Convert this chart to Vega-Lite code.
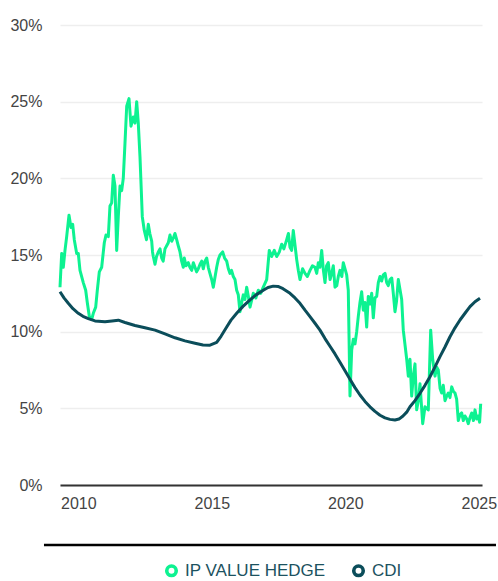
{
"$schema":"https://vega.github.io/schema/vega-lite/v6.json",
"width":422,"height":460,
"autosize":{"type":"none"},
"padding":{"left":60,"top":25,"right":16,"bottom":96},
"background":"white",
"config":{"view":{"stroke":null},"font":"Liberation Sans"},
"datasets":{
"rule":[{"a":2008.715,"b":2025.644,"y":-3.913}],
"main":[
{"t":2009.315,"v":12.9,"s":"IP VALUE HEDGE"},
{"t":2009.378,"v":15.1,"s":"IP VALUE HEDGE"},
{"t":2009.438,"v":14.2,"s":"IP VALUE HEDGE"},
{"t":2009.502,"v":15.3,"s":"IP VALUE HEDGE"},
{"t":2009.565,"v":16.2,"s":"IP VALUE HEDGE"},
{"t":2009.652,"v":17.6,"s":"IP VALUE HEDGE"},
{"t":2009.727,"v":16.8,"s":"IP VALUE HEDGE"},
{"t":2009.790,"v":17.0,"s":"IP VALUE HEDGE"},
{"t":2009.850,"v":16.0,"s":"IP VALUE HEDGE"},
{"t":2009.940,"v":15.1,"s":"IP VALUE HEDGE"},
{"t":2010.000,"v":15.1,"s":"IP VALUE HEDGE"},
{"t":2010.064,"v":14.0,"s":"IP VALUE HEDGE"},
{"t":2010.187,"v":13.2,"s":"IP VALUE HEDGE"},
{"t":2010.277,"v":12.7,"s":"IP VALUE HEDGE"},
{"t":2010.337,"v":11.9,"s":"IP VALUE HEDGE"},
{"t":2010.412,"v":11.0,"s":"IP VALUE HEDGE"},
{"t":2010.502,"v":10.8,"s":"IP VALUE HEDGE"},
{"t":2010.562,"v":11.2,"s":"IP VALUE HEDGE"},
{"t":2010.652,"v":11.6,"s":"IP VALUE HEDGE"},
{"t":2010.712,"v":12.7,"s":"IP VALUE HEDGE"},
{"t":2010.787,"v":13.9,"s":"IP VALUE HEDGE"},
{"t":2010.876,"v":14.2,"s":"IP VALUE HEDGE"},
{"t":2010.974,"v":15.8,"s":"IP VALUE HEDGE"},
{"t":2011.037,"v":16.3,"s":"IP VALUE HEDGE"},
{"t":2011.124,"v":16.2,"s":"IP VALUE HEDGE"},
{"t":2011.187,"v":18.2,"s":"IP VALUE HEDGE"},
{"t":2011.251,"v":18.4,"s":"IP VALUE HEDGE"},
{"t":2011.311,"v":20.2,"s":"IP VALUE HEDGE"},
{"t":2011.375,"v":19.5,"s":"IP VALUE HEDGE"},
{"t":2011.438,"v":15.3,"s":"IP VALUE HEDGE"},
{"t":2011.498,"v":17.5,"s":"IP VALUE HEDGE"},
{"t":2011.562,"v":19.5,"s":"IP VALUE HEDGE"},
{"t":2011.625,"v":19.2,"s":"IP VALUE HEDGE"},
{"t":2011.685,"v":20.0,"s":"IP VALUE HEDGE"},
{"t":2011.749,"v":22.3,"s":"IP VALUE HEDGE"},
{"t":2011.813,"v":24.7,"s":"IP VALUE HEDGE"},
{"t":2011.899,"v":25.2,"s":"IP VALUE HEDGE"},
{"t":2011.974,"v":23.4,"s":"IP VALUE HEDGE"},
{"t":2012.060,"v":24.0,"s":"IP VALUE HEDGE"},
{"t":2012.124,"v":23.6,"s":"IP VALUE HEDGE"},
{"t":2012.187,"v":25.0,"s":"IP VALUE HEDGE"},
{"t":2012.247,"v":23.6,"s":"IP VALUE HEDGE"},
{"t":2012.311,"v":21.4,"s":"IP VALUE HEDGE"},
{"t":2012.397,"v":17.5,"s":"IP VALUE HEDGE"},
{"t":2012.472,"v":16.6,"s":"IP VALUE HEDGE"},
{"t":2012.554,"v":16.0,"s":"IP VALUE HEDGE"},
{"t":2012.622,"v":17.0,"s":"IP VALUE HEDGE"},
{"t":2012.680,"v":16.4,"s":"IP VALUE HEDGE"},
{"t":2012.749,"v":15.9,"s":"IP VALUE HEDGE"},
{"t":2012.780,"v":15.2,"s":"IP VALUE HEDGE"},
{"t":2012.809,"v":14.9,"s":"IP VALUE HEDGE"},
{"t":2012.873,"v":14.4,"s":"IP VALUE HEDGE"},
{"t":2012.930,"v":14.9,"s":"IP VALUE HEDGE"},
{"t":2012.996,"v":15.2,"s":"IP VALUE HEDGE"},
{"t":2013.060,"v":15.4,"s":"IP VALUE HEDGE"},
{"t":2013.124,"v":14.8,"s":"IP VALUE HEDGE"},
{"t":2013.180,"v":14.6,"s":"IP VALUE HEDGE"},
{"t":2013.247,"v":15.4,"s":"IP VALUE HEDGE"},
{"t":2013.310,"v":15.6,"s":"IP VALUE HEDGE"},
{"t":2013.371,"v":15.8,"s":"IP VALUE HEDGE"},
{"t":2013.434,"v":16.3,"s":"IP VALUE HEDGE"},
{"t":2013.498,"v":15.9,"s":"IP VALUE HEDGE"},
{"t":2013.558,"v":16.1,"s":"IP VALUE HEDGE"},
{"t":2013.620,"v":16.4,"s":"IP VALUE HEDGE"},
{"t":2013.685,"v":16.0,"s":"IP VALUE HEDGE"},
{"t":2013.745,"v":15.6,"s":"IP VALUE HEDGE"},
{"t":2013.809,"v":15.2,"s":"IP VALUE HEDGE"},
{"t":2013.870,"v":14.6,"s":"IP VALUE HEDGE"},
{"t":2013.933,"v":14.2,"s":"IP VALUE HEDGE"},
{"t":2013.970,"v":14.8,"s":"IP VALUE HEDGE"},
{"t":2014.034,"v":14.3,"s":"IP VALUE HEDGE"},
{"t":2014.120,"v":14.5,"s":"IP VALUE HEDGE"},
{"t":2014.180,"v":14.2,"s":"IP VALUE HEDGE"},
{"t":2014.247,"v":14.0,"s":"IP VALUE HEDGE"},
{"t":2014.310,"v":14.5,"s":"IP VALUE HEDGE"},
{"t":2014.371,"v":14.2,"s":"IP VALUE HEDGE"},
{"t":2014.430,"v":13.9,"s":"IP VALUE HEDGE"},
{"t":2014.494,"v":14.1,"s":"IP VALUE HEDGE"},
{"t":2014.560,"v":14.4,"s":"IP VALUE HEDGE"},
{"t":2014.622,"v":14.6,"s":"IP VALUE HEDGE"},
{"t":2014.680,"v":14.1,"s":"IP VALUE HEDGE"},
{"t":2014.745,"v":14.6,"s":"IP VALUE HEDGE"},
{"t":2014.810,"v":14.8,"s":"IP VALUE HEDGE"},
{"t":2014.869,"v":14.2,"s":"IP VALUE HEDGE"},
{"t":2014.930,"v":13.8,"s":"IP VALUE HEDGE"},
{"t":2014.996,"v":13.4,"s":"IP VALUE HEDGE"},
{"t":2015.056,"v":12.9,"s":"IP VALUE HEDGE"},
{"t":2015.183,"v":14.2,"s":"IP VALUE HEDGE"},
{"t":2015.243,"v":14.7,"s":"IP VALUE HEDGE"},
{"t":2015.307,"v":15.0,"s":"IP VALUE HEDGE"},
{"t":2015.408,"v":15.2,"s":"IP VALUE HEDGE"},
{"t":2015.480,"v":14.8,"s":"IP VALUE HEDGE"},
{"t":2015.558,"v":14.6,"s":"IP VALUE HEDGE"},
{"t":2015.620,"v":14.1,"s":"IP VALUE HEDGE"},
{"t":2015.682,"v":13.8,"s":"IP VALUE HEDGE"},
{"t":2015.740,"v":14.0,"s":"IP VALUE HEDGE"},
{"t":2015.805,"v":13.6,"s":"IP VALUE HEDGE"},
{"t":2015.869,"v":13.4,"s":"IP VALUE HEDGE"},
{"t":2015.932,"v":12.7,"s":"IP VALUE HEDGE"},
{"t":2015.992,"v":12.4,"s":"IP VALUE HEDGE"},
{"t":2016.056,"v":11.3,"s":"IP VALUE HEDGE"},
{"t":2016.120,"v":11.9,"s":"IP VALUE HEDGE"},
{"t":2016.180,"v":12.4,"s":"IP VALUE HEDGE"},
{"t":2016.240,"v":12.1,"s":"IP VALUE HEDGE"},
{"t":2016.307,"v":12.9,"s":"IP VALUE HEDGE"},
{"t":2016.370,"v":12.3,"s":"IP VALUE HEDGE"},
{"t":2016.431,"v":11.6,"s":"IP VALUE HEDGE"},
{"t":2016.554,"v":12.5,"s":"IP VALUE HEDGE"},
{"t":2016.650,"v":12.2,"s":"IP VALUE HEDGE"},
{"t":2016.742,"v":12.7,"s":"IP VALUE HEDGE"},
{"t":2016.830,"v":12.5,"s":"IP VALUE HEDGE"},
{"t":2016.929,"v":12.9,"s":"IP VALUE HEDGE"},
{"t":2017.056,"v":13.4,"s":"IP VALUE HEDGE"},
{"t":2017.153,"v":15.3,"s":"IP VALUE HEDGE"},
{"t":2017.243,"v":14.9,"s":"IP VALUE HEDGE"},
{"t":2017.340,"v":15.3,"s":"IP VALUE HEDGE"},
{"t":2017.431,"v":14.9,"s":"IP VALUE HEDGE"},
{"t":2017.530,"v":15.2,"s":"IP VALUE HEDGE"},
{"t":2017.618,"v":15.7,"s":"IP VALUE HEDGE"},
{"t":2017.700,"v":15.4,"s":"IP VALUE HEDGE"},
{"t":2017.805,"v":16.0,"s":"IP VALUE HEDGE"},
{"t":2017.870,"v":16.4,"s":"IP VALUE HEDGE"},
{"t":2017.929,"v":15.5,"s":"IP VALUE HEDGE"},
{"t":2017.990,"v":15.3,"s":"IP VALUE HEDGE"},
{"t":2018.052,"v":16.6,"s":"IP VALUE HEDGE"},
{"t":2018.180,"v":14.7,"s":"IP VALUE HEDGE"},
{"t":2018.240,"v":14.0,"s":"IP VALUE HEDGE"},
{"t":2018.303,"v":13.4,"s":"IP VALUE HEDGE"},
{"t":2018.400,"v":14.1,"s":"IP VALUE HEDGE"},
{"t":2018.491,"v":13.8,"s":"IP VALUE HEDGE"},
{"t":2018.580,"v":13.6,"s":"IP VALUE HEDGE"},
{"t":2018.678,"v":14.0,"s":"IP VALUE HEDGE"},
{"t":2018.770,"v":14.3,"s":"IP VALUE HEDGE"},
{"t":2018.865,"v":14.2,"s":"IP VALUE HEDGE"},
{"t":2018.930,"v":13.8,"s":"IP VALUE HEDGE"},
{"t":2018.989,"v":14.5,"s":"IP VALUE HEDGE"},
{"t":2019.050,"v":14.2,"s":"IP VALUE HEDGE"},
{"t":2019.116,"v":15.3,"s":"IP VALUE HEDGE"},
{"t":2019.180,"v":14.0,"s":"IP VALUE HEDGE"},
{"t":2019.240,"v":13.2,"s":"IP VALUE HEDGE"},
{"t":2019.300,"v":14.3,"s":"IP VALUE HEDGE"},
{"t":2019.363,"v":14.5,"s":"IP VALUE HEDGE"},
{"t":2019.430,"v":13.4,"s":"IP VALUE HEDGE"},
{"t":2019.491,"v":13.8,"s":"IP VALUE HEDGE"},
{"t":2019.550,"v":14.3,"s":"IP VALUE HEDGE"},
{"t":2019.614,"v":12.9,"s":"IP VALUE HEDGE"},
{"t":2019.680,"v":13.0,"s":"IP VALUE HEDGE"},
{"t":2019.738,"v":13.6,"s":"IP VALUE HEDGE"},
{"t":2019.800,"v":14.0,"s":"IP VALUE HEDGE"},
{"t":2019.870,"v":13.6,"s":"IP VALUE HEDGE"},
{"t":2019.925,"v":14.5,"s":"IP VALUE HEDGE"},
{"t":2020.052,"v":13.7,"s":"IP VALUE HEDGE"},
{"t":2020.112,"v":12.7,"s":"IP VALUE HEDGE"},
{"t":2020.176,"v":5.8,"s":"IP VALUE HEDGE"},
{"t":2020.240,"v":8.8,"s":"IP VALUE HEDGE"},
{"t":2020.300,"v":9.5,"s":"IP VALUE HEDGE"},
{"t":2020.363,"v":9.2,"s":"IP VALUE HEDGE"},
{"t":2020.427,"v":10.0,"s":"IP VALUE HEDGE"},
{"t":2020.487,"v":11.0,"s":"IP VALUE HEDGE"},
{"t":2020.550,"v":11.9,"s":"IP VALUE HEDGE"},
{"t":2020.614,"v":12.6,"s":"IP VALUE HEDGE"},
{"t":2020.674,"v":11.4,"s":"IP VALUE HEDGE"},
{"t":2020.738,"v":11.9,"s":"IP VALUE HEDGE"},
{"t":2020.801,"v":10.3,"s":"IP VALUE HEDGE"},
{"t":2020.861,"v":12.3,"s":"IP VALUE HEDGE"},
{"t":2020.930,"v":11.8,"s":"IP VALUE HEDGE"},
{"t":2020.989,"v":12.5,"s":"IP VALUE HEDGE"},
{"t":2021.049,"v":10.9,"s":"IP VALUE HEDGE"},
{"t":2021.112,"v":12.2,"s":"IP VALUE HEDGE"},
{"t":2021.176,"v":12.3,"s":"IP VALUE HEDGE"},
{"t":2021.236,"v":13.2,"s":"IP VALUE HEDGE"},
{"t":2021.300,"v":13.6,"s":"IP VALUE HEDGE"},
{"t":2021.360,"v":13.3,"s":"IP VALUE HEDGE"},
{"t":2021.423,"v":13.7,"s":"IP VALUE HEDGE"},
{"t":2021.490,"v":13.8,"s":"IP VALUE HEDGE"},
{"t":2021.550,"v":13.2,"s":"IP VALUE HEDGE"},
{"t":2021.610,"v":13.0,"s":"IP VALUE HEDGE"},
{"t":2021.674,"v":13.4,"s":"IP VALUE HEDGE"},
{"t":2021.740,"v":13.5,"s":"IP VALUE HEDGE"},
{"t":2021.798,"v":12.5,"s":"IP VALUE HEDGE"},
{"t":2021.861,"v":11.3,"s":"IP VALUE HEDGE"},
{"t":2021.920,"v":12.0,"s":"IP VALUE HEDGE"},
{"t":2021.985,"v":13.4,"s":"IP VALUE HEDGE"},
{"t":2022.112,"v":12.1,"s":"IP VALUE HEDGE"},
{"t":2022.172,"v":10.1,"s":"IP VALUE HEDGE"},
{"t":2022.300,"v":8.2,"s":"IP VALUE HEDGE"},
{"t":2022.360,"v":7.1,"s":"IP VALUE HEDGE"},
{"t":2022.423,"v":8.2,"s":"IP VALUE HEDGE"},
{"t":2022.487,"v":5.8,"s":"IP VALUE HEDGE"},
{"t":2022.547,"v":7.1,"s":"IP VALUE HEDGE"},
{"t":2022.610,"v":7.9,"s":"IP VALUE HEDGE"},
{"t":2022.674,"v":4.9,"s":"IP VALUE HEDGE"},
{"t":2022.734,"v":5.5,"s":"IP VALUE HEDGE"},
{"t":2022.798,"v":6.6,"s":"IP VALUE HEDGE"},
{"t":2022.899,"v":4.0,"s":"IP VALUE HEDGE"},
{"t":2022.985,"v":5.1,"s":"IP VALUE HEDGE"},
{"t":2023.109,"v":4.9,"s":"IP VALUE HEDGE"},
{"t":2023.198,"v":10.1,"s":"IP VALUE HEDGE"},
{"t":2023.273,"v":8.2,"s":"IP VALUE HEDGE"},
{"t":2023.360,"v":7.1,"s":"IP VALUE HEDGE"},
{"t":2023.420,"v":7.7,"s":"IP VALUE HEDGE"},
{"t":2023.483,"v":7.5,"s":"IP VALUE HEDGE"},
{"t":2023.550,"v":6.3,"s":"IP VALUE HEDGE"},
{"t":2023.610,"v":6.0,"s":"IP VALUE HEDGE"},
{"t":2023.670,"v":6.5,"s":"IP VALUE HEDGE"},
{"t":2023.734,"v":5.5,"s":"IP VALUE HEDGE"},
{"t":2023.800,"v":5.8,"s":"IP VALUE HEDGE"},
{"t":2023.858,"v":6.0,"s":"IP VALUE HEDGE"},
{"t":2023.920,"v":5.7,"s":"IP VALUE HEDGE"},
{"t":2023.985,"v":6.4,"s":"IP VALUE HEDGE"},
{"t":2024.050,"v":6.1,"s":"IP VALUE HEDGE"},
{"t":2024.108,"v":6.0,"s":"IP VALUE HEDGE"},
{"t":2024.170,"v":5.6,"s":"IP VALUE HEDGE"},
{"t":2024.232,"v":4.2,"s":"IP VALUE HEDGE"},
{"t":2024.300,"v":4.6,"s":"IP VALUE HEDGE"},
{"t":2024.359,"v":4.7,"s":"IP VALUE HEDGE"},
{"t":2024.420,"v":4.2,"s":"IP VALUE HEDGE"},
{"t":2024.483,"v":4.5,"s":"IP VALUE HEDGE"},
{"t":2024.550,"v":4.3,"s":"IP VALUE HEDGE"},
{"t":2024.607,"v":4.0,"s":"IP VALUE HEDGE"},
{"t":2024.670,"v":4.4,"s":"IP VALUE HEDGE"},
{"t":2024.734,"v":4.7,"s":"IP VALUE HEDGE"},
{"t":2024.800,"v":4.2,"s":"IP VALUE HEDGE"},
{"t":2024.858,"v":4.9,"s":"IP VALUE HEDGE"},
{"t":2024.920,"v":4.3,"s":"IP VALUE HEDGE"},
{"t":2024.981,"v":4.5,"s":"IP VALUE HEDGE"},
{"t":2025.030,"v":4.1,"s":"IP VALUE HEDGE"},
{"t":2025.071,"v":5.3,"s":"IP VALUE HEDGE"},
{"t":2009.315,"v":12.6,"s":"CDI"},
{"t":2009.464,"v":12.2,"s":"CDI"},
{"t":2009.625,"v":11.85,"s":"CDI"},
{"t":2009.801,"v":11.5,"s":"CDI"},
{"t":2010.000,"v":11.2,"s":"CDI"},
{"t":2010.176,"v":11.0,"s":"CDI"},
{"t":2010.375,"v":10.85,"s":"CDI"},
{"t":2010.625,"v":10.7,"s":"CDI"},
{"t":2011.000,"v":10.65,"s":"CDI"},
{"t":2011.262,"v":10.7,"s":"CDI"},
{"t":2011.498,"v":10.75,"s":"CDI"},
{"t":2011.749,"v":10.6,"s":"CDI"},
{"t":2012.124,"v":10.4,"s":"CDI"},
{"t":2012.498,"v":10.25,"s":"CDI"},
{"t":2012.873,"v":10.1,"s":"CDI"},
{"t":2013.247,"v":9.85,"s":"CDI"},
{"t":2013.622,"v":9.6,"s":"CDI"},
{"t":2013.996,"v":9.4,"s":"CDI"},
{"t":2014.371,"v":9.25,"s":"CDI"},
{"t":2014.670,"v":9.13,"s":"CDI"},
{"t":2014.933,"v":9.12,"s":"CDI"},
{"t":2015.183,"v":9.3,"s":"CDI"},
{"t":2015.345,"v":9.7,"s":"CDI"},
{"t":2015.558,"v":10.3,"s":"CDI"},
{"t":2015.719,"v":10.75,"s":"CDI"},
{"t":2015.932,"v":11.2,"s":"CDI"},
{"t":2016.168,"v":11.65,"s":"CDI"},
{"t":2016.431,"v":12.07,"s":"CDI"},
{"t":2016.655,"v":12.4,"s":"CDI"},
{"t":2016.929,"v":12.7,"s":"CDI"},
{"t":2017.105,"v":12.88,"s":"CDI"},
{"t":2017.303,"v":12.97,"s":"CDI"},
{"t":2017.479,"v":12.95,"s":"CDI"},
{"t":2017.667,"v":12.8,"s":"CDI"},
{"t":2017.929,"v":12.5,"s":"CDI"},
{"t":2018.116,"v":12.2,"s":"CDI"},
{"t":2018.303,"v":11.85,"s":"CDI"},
{"t":2018.491,"v":11.4,"s":"CDI"},
{"t":2018.678,"v":10.98,"s":"CDI"},
{"t":2018.865,"v":10.55,"s":"CDI"},
{"t":2019.052,"v":10.1,"s":"CDI"},
{"t":2019.240,"v":9.55,"s":"CDI"},
{"t":2019.427,"v":9.05,"s":"CDI"},
{"t":2019.614,"v":8.55,"s":"CDI"},
{"t":2019.801,"v":8.0,"s":"CDI"},
{"t":2019.989,"v":7.45,"s":"CDI"},
{"t":2020.176,"v":6.9,"s":"CDI"},
{"t":2020.363,"v":6.35,"s":"CDI"},
{"t":2020.550,"v":5.87,"s":"CDI"},
{"t":2020.738,"v":5.45,"s":"CDI"},
{"t":2020.925,"v":5.1,"s":"CDI"},
{"t":2021.112,"v":4.8,"s":"CDI"},
{"t":2021.300,"v":4.55,"s":"CDI"},
{"t":2021.487,"v":4.38,"s":"CDI"},
{"t":2021.674,"v":4.28,"s":"CDI"},
{"t":2021.861,"v":4.24,"s":"CDI"},
{"t":2022.011,"v":4.3,"s":"CDI"},
{"t":2022.161,"v":4.5,"s":"CDI"},
{"t":2022.300,"v":4.75,"s":"CDI"},
{"t":2022.423,"v":5.1,"s":"CDI"},
{"t":2022.610,"v":5.5,"s":"CDI"},
{"t":2022.798,"v":5.98,"s":"CDI"},
{"t":2022.985,"v":6.5,"s":"CDI"},
{"t":2023.172,"v":7.06,"s":"CDI"},
{"t":2023.360,"v":7.7,"s":"CDI"},
{"t":2023.547,"v":8.37,"s":"CDI"},
{"t":2023.734,"v":9.0,"s":"CDI"},
{"t":2023.921,"v":9.67,"s":"CDI"},
{"t":2024.108,"v":10.25,"s":"CDI"},
{"t":2024.296,"v":10.76,"s":"CDI"},
{"t":2024.483,"v":11.2,"s":"CDI"},
{"t":2024.670,"v":11.63,"s":"CDI"},
{"t":2024.858,"v":11.95,"s":"CDI"},
{"t":2025.045,"v":12.18,"s":"CDI"}
]},
"layer":[
{"data":{"name":"main"},
 "mark":{"type":"line","strokeWidth":3,"strokeJoin":"round"},
 "encoding":{
  "x":{"field":"t","type":"quantitative","scale":{"domain":[2009.315,2025.12],"nice":false,"zero":false},
       "axis":{"values":[2010,2015,2020,2025],"format":"d","title":null,"grid":false,"ticks":false,"domain":true,"domainColor":"#333333","domainWidth":2,"labelFont":"Liberation Sans","labelFontSize":16,"labelColor":"#444444","labelPadding":10,"labelFlush":false,"labelOverlap":false,"labelBound":false}},
  "y":{"field":"v","type":"quantitative","scale":{"domain":[0,30],"nice":false},
       "axis":{"values":[0,2.5,5,7.5,10,12.5,15,17.5,20,22.5,25,27.5,30],"labelExpr":"datum.value % 5 == 0 ? datum.value + '%' : ''","title":null,"domain":false,"ticks":false,"grid":true,"gridColor":"#eeeeee","gridWidth":1.6,"labelFont":"Liberation Sans","labelFontSize":16,"labelColor":"#444444","labelPadding":18}},
  "color":{"field":"s","type":"nominal","sort":["IP VALUE HEDGE","CDI"],
   "scale":{"domain":["IP VALUE HEDGE","CDI"],"range":["#0df291","#0b4d5a"]},
   "legend":{"title":null,"orient":"none","legendX":103,"legendY":537,"direction":"horizontal","symbolType":"circle","symbolSize":90,"symbolStrokeWidth":3.6,"symbolFillColor":"#ffffff","labelFont":"Liberation Sans","labelFontSize":17,"labelColor":"#1c5260","labelOffset":5,"columnPadding":20,"padding":0}}
 }},
{"data":{"name":"rule"},
 "mark":{"type":"rule","color":"#000000","strokeWidth":2.5},
 "encoding":{"x":{"field":"a","type":"quantitative"},"x2":{"field":"b"},"y":{"field":"y","type":"quantitative"}}}
]
}
